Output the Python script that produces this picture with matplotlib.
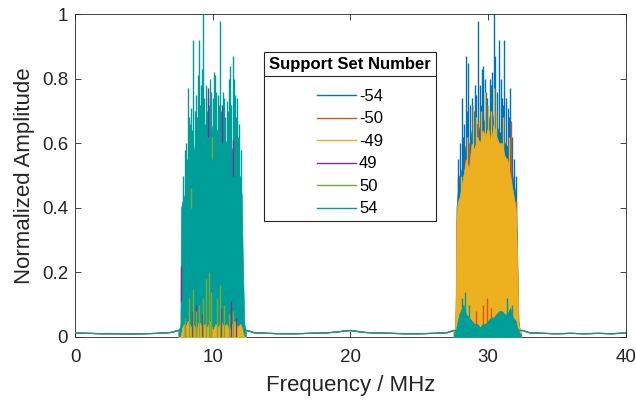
"""Normalized spectrum of six support sets, two occupied bands."""
import matplotlib
matplotlib.use("Agg")
import matplotlib.pyplot as plt
from matplotlib.lines import Line2D

plt.rcParams["font.family"] = ["Liberation Sans", "DejaVu Sans"]

labels = ["-54", "-50", "-49", "49", "50", "54"]
colors = ["#0072BD", "#D95319", "#EDB120", "#7E2F8E", "#77AC30", "#009E99"]

# noise floor (shared by all sets)
floor_f = [0, 1, 2, 3, 4, 5, 6, 7, 7.5, 12.5, 13, 14, 15, 16, 17, 18, 19, 19.5, 20, 20.5, 21,
           22, 23, 24, 25, 26, 27, 27.5, 32.5, 33, 34, 35, 36, 37, 38, 39, 40]
floor_a = [0.012, 0.011, 0.010, 0.010, 0.009, 0.010, 0.011, 0.014, 0.02, 0.02, 0.013, 0.011,
           0.010, 0.010, 0.011, 0.012, 0.015, 0.018, 0.020, 0.017, 0.014, 0.012, 0.011, 0.010,
           0.010, 0.011, 0.013, 0.02, 0.02, 0.013, 0.011, 0.010, 0.011, 0.010, 0.011, 0.010, 0.012]

# band 1 (set 54)
b1_f = [7.5, 7.6, 7.65, 7.7, 7.8, 7.9, 8.0, 8.2, 8.4, 8.6, 8.8, 9.0, 9.2, 9.4, 9.6, 9.8, 10.0,
        10.2, 10.4, 10.6, 10.8, 11.0, 11.2, 11.4, 11.6, 11.8, 12.0, 12.1, 12.2, 12.3, 12.4]
s54_env = [0.02, 0.03, 0.04, 0.40, 0.42, 0.43, 0.45, 0.52, 0.58, 0.57, 0.62, 0.64, 0.63, 0.66,
           0.65, 0.67, 0.64, 0.65, 0.63, 0.64, 0.62, 0.60, 0.61, 0.58, 0.55, 0.50, 0.47, 0.44,
           0.20, 0.04, 0.02]
s54_spk_f = [7.85, 7.95, 8.05, 8.1, 8.18, 8.25, 8.3, 8.38, 8.45, 8.52, 8.59, 8.7, 8.8, 8.88,
             8.95, 9.03, 9.1, 9.15, 9.25, 9.32, 9.4, 9.5, 9.58, 9.68, 9.75, 9.82, 9.9, 10.0,
             10.07, 10.17, 10.25, 10.35, 10.42, 10.53, 10.6, 10.72, 10.85, 10.92, 11.0, 11.1,
             11.18, 11.25, 11.35, 11.45, 11.52, 11.6, 11.67, 11.74, 11.85, 11.92, 12.0, 12.08]
s54_spk_a = [0.50, 0.58, 0.60, 0.55, 0.77, 0.62, 0.68, 0.66, 0.71, 0.64, 0.92, 0.70, 0.75, 0.68,
             0.81, 0.92, 0.72, 0.78, 0.83, 1.0, 0.74, 0.78, 0.70, 0.74, 0.72, 0.80, 0.76, 0.74,
             0.82, 0.81, 0.76, 0.75, 0.72, 0.98, 0.70, 0.76, 0.74, 0.68, 0.73, 0.70, 0.80, 0.84,
             0.72, 0.87, 0.80, 0.75, 0.68, 0.74, 0.62, 0.66, 0.50, 0.58]
# low-level leakage of other sets inside band 1
s_m49_b1 = [0.0, 0.0, 0.0, 0.01, 0.03, 0.04, 0.03, 0.05, 0.03, 0.04, 0.02, 0.05, 0.03, 0.04,
            0.03, 0.05, 0.02, 0.04, 0.03, 0.05, 0.03, 0.04, 0.02, 0.04, 0.05, 0.03, 0.04, 0.03,
            0.01, 0.0, 0.0]
s50_spk_f = [8.0, 8.3, 8.6, 8.8, 9.0, 9.3, 9.5, 9.7, 9.85, 10.3, 10.5, 10.8, 11.2, 11.5]
s50_spk_a = [0.06, 0.12, 0.15, 0.08, 0.10, 0.12, 0.18, 0.20, 0.14, 0.12, 0.16, 0.10, 0.07, 0.08]
s50_hi_f = [8.45, 9.95]
s50_hi_lo = [0.40, 0.55]
s50_hi_hi = [0.46, 0.62]
s49_spk_f = [8.0, 8.5, 8.8, 9.2, 9.9, 10.6, 11.3, 11.7]
s49_spk_a = [0.06, 0.08, 0.10, 0.07, 0.05, 0.09, 0.11, 0.06]
s49_hi_f = [7.72, 9.68, 10.7, 11.5]
s49_hi_lo = [0.11, 0.62, 0.60, 0.50]
s49_hi_hi = [0.22, 0.77, 0.72, 0.61]

# band 2 (sets -54, -50, -49)
b2_f = [27.5, 27.6, 27.65, 27.7, 27.8, 27.9, 28.0, 28.2, 28.4, 28.6, 28.8, 29.0, 29.2, 29.4,
        29.6, 29.8, 30.0, 30.2, 30.4, 30.6, 30.8, 31.0, 31.2, 31.4, 31.6, 31.8, 32.0, 32.1,
        32.2, 32.3, 32.4]
sm54_env = [0.02, 0.02, 0.05, 0.40, 0.45, 0.50, 0.50, 0.56, 0.60, 0.57, 0.64, 0.62, 0.66, 0.64,
            0.68, 0.66, 0.69, 0.64, 0.69, 0.66, 0.63, 0.64, 0.60, 0.59, 0.54, 0.49, 0.44, 0.28,
            0.05, 0.02, 0.02]
sm49_env = [0.02, 0.02, 0.14, 0.38, 0.42, 0.43, 0.45, 0.50, 0.55, 0.52, 0.60, 0.58, 0.62, 0.60,
            0.64, 0.62, 0.65, 0.60, 0.66, 0.62, 0.60, 0.60, 0.56, 0.55, 0.50, 0.45, 0.40, 0.25,
            0.04, 0.02, 0.02]
sm54_spk_f = [27.78, 27.83, 27.95, 28.07, 28.15, 28.25, 28.36, 28.45, 28.55, 28.68, 28.8, 28.95,
              29.05, 29.15, 29.28, 29.4, 29.45, 29.55, 29.65, 29.75, 29.86, 29.95, 30.1, 30.2,
              30.3, 30.44, 30.5, 30.65, 30.78, 30.9, 31.0, 31.08, 31.17, 31.3, 31.45, 31.52,
              31.6, 31.75, 31.9, 32.05]
sm54_spk_a = [0.55, 0.50, 0.60, 0.74, 0.62, 0.66, 0.87, 0.70, 0.85, 0.72, 0.74, 0.70, 0.78, 0.75,
              0.98, 0.78, 0.72, 0.83, 0.84, 0.80, 0.76, 0.74, 0.80, 0.78, 0.82, 1.0, 0.87, 0.76,
              0.92, 0.80, 0.74, 0.72, 0.92, 0.74, 0.71, 0.68, 0.77, 0.62, 0.55, 0.50]
sm50_spk_f = [27.9, 28.3, 28.6, 29.3, 29.9, 30.3, 31.0, 31.65, 32.0]
sm50_spk_a = [0.34, 0.55, 0.60, 0.67, 0.60, 0.62, 0.58, 0.67, 0.42]
sm50_low_f = [28.4, 29.1, 29.6, 29.9, 30.2, 30.6, 31.3]
sm50_low_a = [0.06, 0.08, 0.10, 0.12, 0.09, 0.07, 0.05]
sm49_spk_f = [28.0, 28.5, 28.9, 29.1, 29.5, 29.8, 30.0, 30.2, 30.44, 30.6, 31.1, 31.5]
sm49_spk_a = [0.50, 0.62, 0.72, 0.68, 0.70, 0.76, 0.72, 0.70, 0.77, 0.70, 0.68, 0.62]
s54_b2 = [0.01, 0.02, 0.02, 0.03, 0.05, 0.07, 0.08, 0.10, 0.07, 0.06, 0.05, 0.04, 0.04, 0.03,
          0.04, 0.04, 0.05, 0.06, 0.06, 0.07, 0.08, 0.08, 0.07, 0.07, 0.09, 0.06, 0.05, 0.03,
          0.02, 0.01, 0.01]
s54_b2_spk_f = [28.1, 28.3, 28.6, 31.4, 31.7]
s54_b2_spk_a = [0.12, 0.14, 0.10, 0.12, 0.10]

fig = plt.figure(figsize=(6.36, 4.04), dpi=100)
ax = fig.add_axes([0.118, 0.166, 0.866, 0.799])

c_m54, c_m50, c_m49, c_49, c_50, c_54 = colors
# noise floor, every set
for i, c in enumerate(colors):
    ax.plot(floor_f, floor_a, color=c, lw=0.8, zorder=1 + i)

# band 2 bodies
ax.fill_between(b2_f, sm54_env, color=c_m54, lw=0.5, zorder=2)
ax.vlines(sm54_spk_f, 0, sm54_spk_a, color=c_m54, lw=1.0, zorder=2)
ax.fill_between(b2_f, [a * 0.95 for a in sm49_env], color=c_m50, lw=0.5, zorder=3)
ax.vlines(sm50_spk_f, 0, sm50_spk_a, color=c_m50, lw=1.0, zorder=3)
ax.fill_between(b2_f, sm49_env, color=c_m49, lw=0.5, zorder=4)
ax.vlines(sm49_spk_f, 0, sm49_spk_a, color=c_m49, lw=1.0, zorder=4)
ax.vlines(sm50_low_f, 0, sm50_low_a, color=c_m50, lw=1.0, zorder=5)
ax.fill_between(b2_f, s54_b2, color=c_54, lw=0.5, zorder=7)
ax.vlines(s54_b2_spk_f, 0, s54_b2_spk_a, color=c_54, lw=1.0, zorder=7)

# band 1 bodies
ax.fill_between(b1_f, s54_env, color=c_54, lw=0.5, zorder=7)
ax.vlines(s54_spk_f, 0, s54_spk_a, color=c_54, lw=1.0, zorder=7)
ax.fill_between(b1_f, s_m49_b1, color=c_m49, lw=0.5, zorder=8)
ax.vlines(s49_spk_f, 0, s49_spk_a, color=c_49, lw=1.0, zorder=8)
ax.vlines(s49_hi_f, s49_hi_lo, s49_hi_hi, color=c_49, lw=1.0, zorder=8)
ax.vlines(s50_spk_f, 0, s50_spk_a, color=c_50, lw=1.0, zorder=8)
ax.vlines(s50_hi_f, s50_hi_lo, s50_hi_hi, color=c_50, lw=1.0, zorder=8)

ax.set_xlim(0, 40)
ax.set_ylim(0, 1)
ax.set_xticks([0, 10, 20, 30, 40])
ax.set_yticks([0, 0.2, 0.4, 0.6, 0.8, 1])
ax.set_yticklabels(["0", "0.2", "0.4", "0.6", "0.8", "1"])
ax.tick_params(direction="in", length=4, width=0.6, labelsize=13.5, colors="#262626",
               top=True, right=True, pad=5)
ax.tick_params(axis="x", pad=9)
for s in ax.spines.values():
    s.set_color("#262626")
    s.set_linewidth(0.6)
ax.set_xlabel("Frequency / MHz", fontsize=16, color="#262626", labelpad=6)
ax.set_ylabel("Normalized Amplitude", fontsize=16, color="#262626", labelpad=5)

handles = [Line2D([], [], color=c, lw=1.0) for c in colors]
leg = ax.legend(handles, labels, title="Support Set Number", loc="upper left",
                bbox_to_anchor=(0.343, 0.882), fontsize=12, alignment="center",
                title_fontproperties={"weight": "bold", "size": 12}, frameon=True,
                fancybox=False, edgecolor="#262626", framealpha=1, handlelength=2.35,
                labelspacing=0.45, borderpad=0.3, handletextpad=0.2, borderaxespad=0)
leg._legend_box.sep = 12
leg.get_frame().set_linewidth(0.8)
leg.set_zorder(20)

# separator under the legend title
fig.canvas.draw()
lb = leg.get_window_extent()
tb = leg.get_title().get_window_extent()
ysep = (tb.y0 - 4) / fig.bbox.height
fig.add_artist(Line2D([lb.x0 / fig.bbox.width, lb.x1 / fig.bbox.width], [ysep, ysep],
                      color="#262626", lw=0.8, zorder=30))

fig.savefig("out.png", dpi=100)
